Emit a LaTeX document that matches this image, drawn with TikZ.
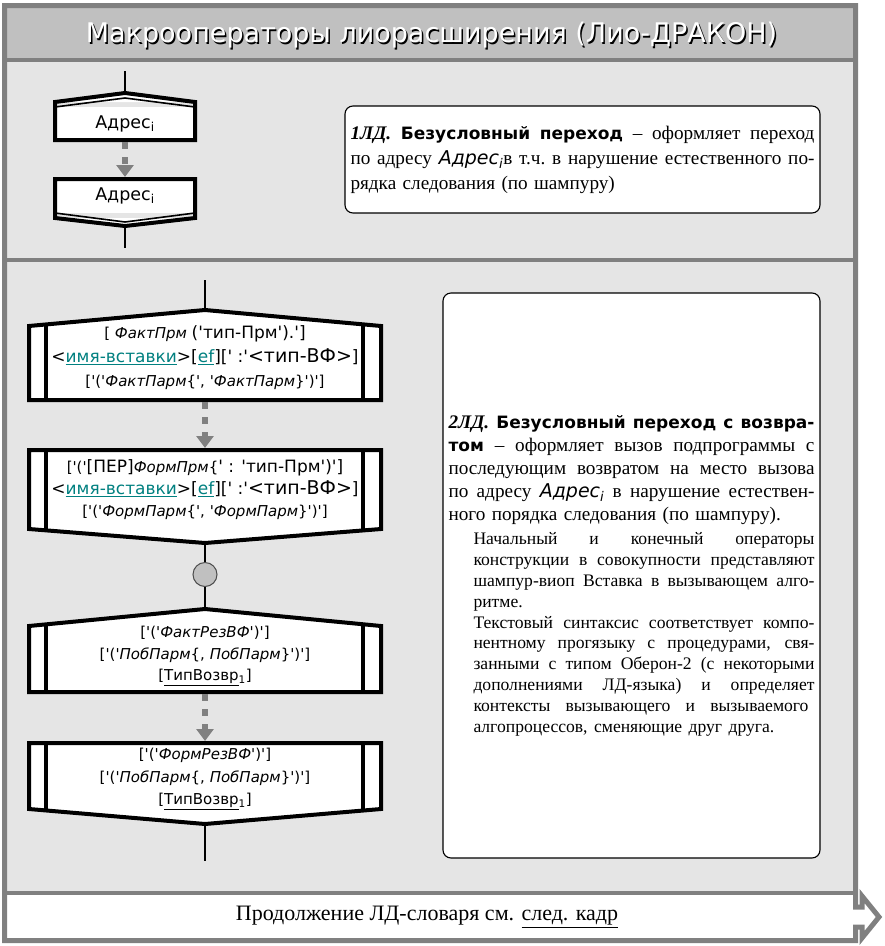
\documentclass[tikz,border=0pt]{standalone}
\usepackage{fontspec}
\setmainfont{Liberation Serif}
\newfontfamily\blkfont{DejaVu Sans}[Ligatures=TeXOff]
\definecolor{framegray}{RGB}{128,128,128}
\definecolor{titlegray}{RGB}{192,192,192}
\definecolor{panelgray}{RGB}{229,229,229}
\definecolor{linkteal}{RGB}{0,128,128}
\newcommand{\q}{'}
\newcommand{\lnk}[1]{\textcolor{linkteal}{\underline{#1}}}
\newcommand{\bg}[1]{{\fontsize{17}{17}\selectfont #1}}
\newcommand{\jl}[2]{\leavevmode\hbox to #1{\spaceskip=.25em plus 1fil minus .05em\xspaceskip=\spaceskip #2}}
\usetikzlibrary{arrows.meta,positioning}

\begin{document}
\begin{tikzpicture}[x=1pt, y=-1pt]
\tikzstyle{frameline} = [draw=framegray, line width=5pt, line join=miter]
\tikzstyle{sepline} = [draw=framegray, line width=4pt]
\tikzstyle{blk} = [fill=white, outer sep=0pt, inner sep=0pt]
\tikzstyle{blktxt} = [inner sep=0pt, align=center, font=\blkfont\fontsize{15}{22}\selectfont]
\tikzstyle{edge} = [draw=black, line width=4pt, line join=miter]
\tikzstyle{flow} = [draw, line width=2pt]
\tikzstyle{jump} = [draw=framegray, line width=6pt, dash pattern=on 7pt off 8pt, shorten <=2pt, shorten >=2pt, -{Triangle[width=17pt,length=12pt]}]
\tikzstyle{note} = [draw, fill=white, rounded corners=8pt, line width=1.1pt, inner sep=5.5pt, align=left, font=\fontsize{19.2}{25}\selectfont]
\useasboundingbox (0,0) rectangle (885,946);

% frame and panels
\fill[titlegray] (4.5,5.5) rectangle (855.5,60);
\fill[panelgray] (4.5,60) rectangle (855.5,893);
\draw[sepline] (4.5,60) -- (855.5,60);
\draw[sepline] (4.5,260) -- (855.5,260);
\draw[sepline] (4.5,893) -- (855.5,893);
\draw[frameline] (4.5,5.5) -- (855.5,5.5) -- (855.5,907) -- (862,907) -- (862,896) -- (879,917)
  -- (862,938) -- (862,927) -- (855.5,927) -- (855.5,940.5) -- (4.5,940.5) -- cycle;

\node[font=\blkfont\fontsize{27}{27}\selectfont, text=black] (titleshadow) at (433,37) {Макрооператоры лиорасширения (Лио-ДРАКОН)};
\node[font=\blkfont\fontsize{27}{27}\selectfont, text=white] (title) at (431.5,35.5) {Макрооператоры лиорасширения (Лио-ДРАКОН)};

% 1LD
\coordinate (s1) at (125,71);
\node[blk, minimum width=140pt, minimum height=33pt, font=\blkfont\fontsize{17.5}{17.5}\selectfont] (adr1) at (125,123.5) {Адрес\textsubscript{i}};
\node[blk, minimum width=140pt, minimum height=34pt, below=39pt of adr1, font=\blkfont\fontsize{17.5}{17.5}\selectfont] (adr2) {Адрес\textsubscript{i}};
\coordinate[above=14pt of adr1.north] (p1);
\coordinate[below=13pt of adr2.south] (p2);
\coordinate[below=22pt of p2] (e1);
\fill[white] ([yshift=5pt]adr1.north west) -- (p1) -- ([yshift=5pt]adr1.north east) -- cycle;
\fill[white] ([yshift=-5pt]adr2.south west) -- (p2) -- ([yshift=-5pt]adr2.south east) -- cycle;
\draw[edge] (adr1.south west) -- ([yshift=5pt]adr1.north west) -- (p1) -- ([yshift=5pt]adr1.north east) -- (adr1.south east) -- cycle;
\draw[edge] (adr2.north west) -- ([yshift=-5pt]adr2.south west) -- (p2) -- ([yshift=-5pt]adr2.south east) -- (adr2.north east) -- cycle;
\draw[line width=1.6pt] (adr1.north west) -- ([yshift=9pt]adr1.north) -- (adr1.north east);
\draw[line width=1.6pt] (adr2.south west) -- ([yshift=-9pt]adr2.south) -- (adr2.south east);
\draw[flow] (s1) -- (p1);
\draw[flow] (p2) -- (e1);
\draw[jump] (adr1.south) -- (adr2.north);

\node[note, text width=464pt, minimum height=107pt] (ld1) at (582.5,159.5) {%
\jl{464pt}{\textbf{\textit{1ЛД.}} {\blkfont\bfseries\fontsize{17}{17}\selectfont Безусловный переход} – оформляет переход}\\
\jl{464pt}{по адресу {\blkfont\itshape\fontsize{19}{19}\selectfont Адрес\textsubscript{i}}в т.ч. в нарушение естественного по-}\\
рядка следования (по шампуру)};

% 2LD
\coordinate (s2) at (205,280);
\node[blk, minimum width=352pt, minimum height=74pt] (ins1) at (205,363) {};
\node[blk, minimum width=352pt, minimum height=79pt, below=50pt of ins1] (ins2) {};
\node[circle, draw=black!70, fill=titlegray, line width=1pt, minimum size=24pt, inner sep=0pt, below=33pt of ins2] (conn) {};
\node[blk, minimum width=352pt, minimum height=66pt, below=39pt of conn] (ins3) {};
\node[blk, minimum width=352pt, minimum height=66pt, below=51pt of ins3] (ins4) {};
\coordinate[above=16pt of ins1.north] (q1);
\coordinate[below=14pt of ins2.south] (q2);
\coordinate[above=17pt of ins3.north] (q3);
\coordinate[below=15pt of ins4.south] (q4);
\coordinate[below=37pt of q4] (e2);

\fill[white] (ins1.north west) -- (q1) -- (ins1.north east) -- cycle;
\fill[white] (ins2.south west) -- (q2) -- (ins2.south east) -- cycle;
\fill[white] (ins3.north west) -- (q3) -- (ins3.north east) -- cycle;
\fill[white] (ins4.south west) -- (q4) -- (ins4.south east) -- cycle;
\draw[edge] (ins1.south west) -- (ins1.north west) -- (q1) -- (ins1.north east) -- (ins1.south east) -- cycle;
\draw[edge] (ins2.north west) -- (ins2.south west) -- (q2) -- (ins2.south east) -- (ins2.north east) -- cycle;
\draw[edge] (ins3.south west) -- (ins3.north west) -- (q3) -- (ins3.north east) -- (ins3.south east) -- cycle;
\draw[edge] (ins4.north west) -- (ins4.south west) -- (q4) -- (ins4.south east) -- (ins4.north east) -- cycle;
\foreach \n in {ins1,ins2,ins3,ins4} {
  \draw[edge, line width=3.5pt] ([xshift=17pt]\n.north west) -- ([xshift=17pt]\n.south west);
  \draw[edge, line width=3.5pt] ([xshift=-18pt]\n.north east) -- ([xshift=-18pt]\n.south east);
}

\node[blktxt, font=\blkfont\fontsize{15}{24}\selectfont, yshift=5pt] (ins1txt) at (ins1)
  {{}[ \textit{ФактПрм} \bg{(\q тип-Прм\q).\q]}\\
   {\fontsize{17}{17}\selectfont <\lnk{имя-вставки}>[\lnk{ef}][\q{} :\q{\fontsize{19}{19}\selectfont<тип-ВФ>}]}\\
   {}[\q(\q\textit{ФактПарм}\{\q, \q\textit{ФактПарм}\}\q)\q]};
\node[blktxt] (ins2txt) at (ins2)
  {{}[\q(\q\bg{[ПЕР]}\textit{ФормПрм}\{\bg{\q{} : \q тип-Прм\q)\q]}\\
   {\fontsize{17}{17}\selectfont <\lnk{имя-вставки}>[\lnk{ef}][\q{} :\q{\fontsize{19}{19}\selectfont<тип-ВФ>}]}\\
   {}[\q(\q\textit{ФормПарм}\{\q, \q\textit{ФормПарм}\}\q)\q]};
\node[blktxt, font=\blkfont\fontsize{15}{21.5}\selectfont, yshift=3pt] (ins3txt) at (ins3)
  {{}[\q(\q\textit{ФактРезВФ}\q)\q]\\
   {}[\q(\q\textit{ПобПарм}\{, \textit{ПобПарм}\}\q)\q]\\
   {}[\underline{ТипВозвр}\textsubscript{1}]};
\node[blktxt, font=\blkfont\fontsize{15}{22.5}\selectfont, yshift=-3pt] (ins4txt) at (ins4)
  {{}[\q(\q\textit{ФормРезВФ}\q)\q]\\
   {}[\q(\q\textit{ПобПарм}\{, \textit{ПобПарм}\}\q)\q]\\
   {}[\underline{ТипВозвр}\textsubscript{1}]};

\draw[flow] (s2) -- (q1);
\draw[flow] (q2) -- (conn);
\draw[flow] (conn) -- (q3);
\draw[flow] (q4) -- (e2);
\draw[jump] (ins1.south) -- (ins2.north);
\draw[jump] (ins3.south) -- (ins4.north);

\node[note, text width=366pt, minimum height=565pt] (ld2) at (631.5,575.5) {%
{\fontsize{19.2}{23}\selectfont
\jl{366pt}{\textbf{\textit{2ЛД.}} {\blkfont\bfseries\fontsize{17}{17}\selectfont Безусловный переход с возвра-}}\\
\jl{366pt}{{\blkfont\bfseries\fontsize{17}{17}\selectfont том} – оформляет вызов подпрограммы с}\\
\jl{366pt}{последующим возвратом на место вызова}\\
\jl{366pt}{по адресу {\blkfont\itshape\fontsize{19}{19}\selectfont Адрес\textsubscript{i}} в нарушение естествен-}\\
ного порядка следования (по шампуру).\par}
\vspace{4pt}
{\fontsize{17.6}{20.8}\selectfont\leftskip=25pt
\jl{341pt}{Начальный и конечный операторы}\\
\jl{341pt}{конструкции в совокупности представляют}\\
\jl{341pt}{шампур-виоп Вставка в вызывающем алго-}\\
ритме.\\
\jl{341pt}{Текстовый синтаксис соответствует компо-}\\
\jl{341pt}{нентному прогязыку с процедурами, свя-}\\
\jl{341pt}{занными с типом Оберон-2 (с некоторыми}\\
\jl{341pt}{дополнениями ЛД-языка) и определяет}\\
\jl{335pt}{контексты  вызывающего и вызываемого}\\
алгопроцессов, сменяющие друг друга.\par}};

\node[font=\fontsize{22}{22}\selectfont] (cont) at (427,917) {Продолжение ЛД-словаря см. \underline{след. кадр}};
\end{tikzpicture}
\end{document}
